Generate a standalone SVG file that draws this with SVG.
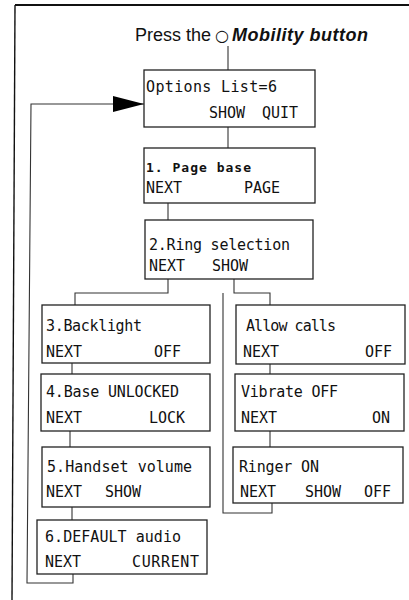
<svg xmlns="http://www.w3.org/2000/svg" width="409" height="600" viewBox="0 0 409 600">
<style>
.box{fill:#fff;stroke:#222;stroke-width:1.3}
.con{fill:none;stroke:#333;stroke-width:1.1}
.frame{fill:none;stroke:#111}
.t{font-family:"DejaVu Sans Mono","Liberation Mono",monospace;font-size:15px;fill:#111}
.s{font-family:"DejaVu Sans Mono","Liberation Mono",monospace;font-size:13px;font-weight:bold;fill:#111}
.h{font-family:"Liberation Sans",Arial,sans-serif;font-size:18px;fill:#111}
.hb{font-family:"Liberation Sans",Arial,sans-serif;font-size:18px;font-weight:bold;font-style:italic;fill:#111}
.c{font-family:"DejaVu Sans",sans-serif;font-size:16px;fill:#111}
</style>
<defs>
<marker id="arr" markerUnits="userSpaceOnUse" markerWidth="32" markerHeight="17" refX="31" refY="8" orient="auto">
<path d="M0,0 L31,8 L0,16 Z" fill="#000"/>
</marker>
</defs>
<rect width="409" height="600" fill="#fff"/>
<g id="frame">
<path class="frame" d="M15,5 H409" stroke-width="2"/>
<path class="frame" d="M15,5 L12,600" stroke-width="1.4"/>
</g>
<g id="header">
<text class="h" x="135" y="41">Press the</text>
<text class="c" x="215" y="40.5">○</text>
<text class="hb" x="232" y="41" textLength="136">Mobility button</text>
</g>
<g id="connectors">
<path class="con" d="M228,46 V70"/>
<path class="con" d="M228,127 V148"/>
<path class="con" d="M168,203 V220"/>
<path class="con" d="M168,279 V293 H75 V305"/>
<path class="con" d="M234,279 V293 H270 V305"/>
<path class="con" d="M72,363 V374"/>
<path class="con" d="M70,431 V447"/>
<path class="con" d="M72,507 V520"/>
<path class="con" d="M270,364 V374"/>
<path class="con" d="M270,431 V447"/>
<path class="con" d="M272,503 V513 H223 V293"/>
<path class="con" d="M73,574 V583 H27 L31,104 H144" marker-end="url(#arr)"/>
</g>
<g id="options">
<rect class="box" x="144" y="70" width="171" height="57"/>
<text class="t" x="146" y="92" textLength="131">Options List=6</text>
<text class="t" x="209" y="118">SHOW</text>
<text class="t" x="262" y="118">QUIT</text>
</g>
<g id="page-base">
<rect class="box" x="144" y="148" width="171" height="55"/>
<text class="s" x="146" y="172" textLength="105">1. Page base</text>
<text class="t" x="146" y="193">NEXT</text>
<text class="t" x="244" y="193">PAGE</text>
</g>
<g id="ring-selection">
<rect class="box" x="145" y="220" width="168" height="59"/>
<text class="t" x="149" y="250" textLength="141">2.Ring selection</text>
<text class="t" x="149" y="271">NEXT</text>
<text class="t" x="212" y="271">SHOW</text>
</g>
<g id="backlight">
<rect class="box" x="42" y="305" width="168" height="58"/>
<text class="t" x="46" y="331" textLength="96">3.Backlight</text>
<text class="t" x="46" y="357">NEXT</text>
<text class="t" x="154" y="357">OFF</text>
</g>
<g id="allow-calls">
<rect class="box" x="236" y="305" width="169" height="59"/>
<text class="t" x="246" y="331" textLength="90">Allow calls</text>
<text class="t" x="243" y="357">NEXT</text>
<text class="t" x="365" y="357">OFF</text>
</g>
<g id="base-unlocked">
<rect class="box" x="41" y="374" width="169" height="57"/>
<text class="t" x="46" y="397" textLength="133">4.Base UNLOCKED</text>
<text class="t" x="46" y="423">NEXT</text>
<text class="t" x="149" y="423">LOCK</text>
</g>
<g id="vibrate-off">
<rect class="box" x="235" y="374" width="169" height="57"/>
<text class="t" x="241" y="397" textLength="97">Vibrate OFF</text>
<text class="t" x="241" y="423">NEXT</text>
<text class="t" x="372" y="423">ON</text>
</g>
<g id="handset-volume">
<rect class="box" x="42" y="447" width="168" height="60"/>
<text class="t" x="47" y="472" textLength="145">5.Handset volume</text>
<text class="t" x="46" y="497">NEXT</text>
<text class="t" x="105" y="497">SHOW</text>
</g>
<g id="ringer-on">
<rect class="box" x="233" y="447" width="170" height="56"/>
<text class="t" x="239" y="472" textLength="80">Ringer ON</text>
<text class="t" x="240" y="497">NEXT</text>
<text class="t" x="305" y="497">SHOW</text>
<text class="t" x="364" y="497">OFF</text>
</g>
<g id="default-audio">
<rect class="box" x="37" y="520" width="170" height="54"/>
<text class="t" x="45" y="542" textLength="136">6.DEFAULT audio</text>
<text class="t" x="45" y="567">NEXT</text>
<text class="t" x="132" y="567" textLength="67">CURRENT</text>
</g>
</svg>
